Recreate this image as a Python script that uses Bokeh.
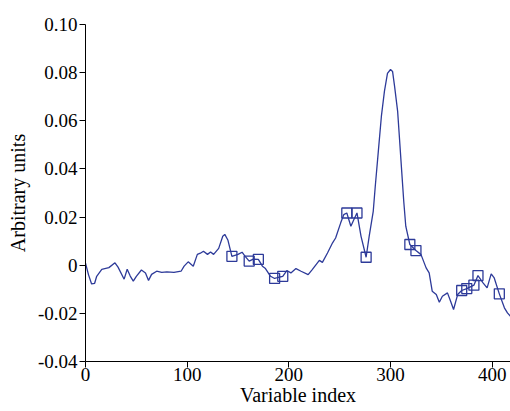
from bokeh.plotting import figure
from bokeh.models import FixedTicker, Range1d
from bokeh.embed import file_html
from bokeh.resources import INLINE

# Curve data (variable index, arbitrary units)
var_index = [0, 3, 6, 9, 11, 16, 23, 29, 32, 38, 41, 44, 47, 50, 55, 59, 62, 65, 70, 75,
             80, 87, 94, 97, 101, 106, 110, 113, 116, 120, 123, 126, 131, 135, 137, 140,
             144, 150, 154, 157, 161, 165, 170, 174, 177, 182, 186, 190, 194, 198, 202,
             207, 212, 219, 223, 230, 233, 238, 243, 246, 251, 254, 257, 261, 264, 267,
             271, 276, 279, 283, 285, 288, 291, 294, 297, 300, 302, 304, 307, 309, 311,
             313, 315, 319, 325, 330, 335, 338, 341, 345, 348, 351, 356, 359, 362, 366,
             370, 375, 382, 386, 391, 395, 399, 402, 407, 412, 415, 418]
signal = [0.0008, -0.004, -0.0078, -0.0075, -0.0046, -0.0017, -0.001, 0.001, -0.0008, -0.0058,
          -0.0017, -0.0045, -0.0066, -0.0046, -0.002, -0.0032, -0.0063, -0.0038, -0.0025, -0.003,
          -0.0028, -0.003, -0.0025, -0.0004, 0.0014, -0.0004, 0.0045, 0.005, 0.0058, 0.0045,
          0.0055, 0.0045, 0.007, 0.012, 0.0128, 0.0105, 0.0037, 0.0045, 0.0054, 0.0037,
          0.0017, 0.0025, 0.0024, -0.0004, -0.0014, -0.0046, -0.0055, -0.005, -0.0046, -0.0022,
          -0.0032, -0.0014, -0.0025, -0.0039, -0.0018, 0.002, 0.0012, 0.0051, 0.0093, 0.0113,
          0.0176, 0.021, 0.0217, 0.0162, 0.019, 0.0217, 0.012, 0.0033, 0.012, 0.0224,
          0.0328, 0.0473, 0.0618, 0.0722, 0.0797, 0.0813, 0.0805, 0.0743, 0.0639, 0.0515,
          0.039, 0.0266, 0.0162, 0.0086, 0.0061, 0.0044, -0.0011, -0.0032, -0.0108, -0.0122,
          -0.0154, -0.0129, -0.0115, -0.0149, -0.0184, -0.0122, -0.0105, -0.0097, -0.0083, -0.0043,
          -0.0073, -0.0094, -0.0036, -0.0053, -0.0119, -0.0177, -0.0198, -0.0212]

# Selected variables (square markers)
sel_index = [144, 161, 170, 186, 194, 257, 267, 276, 319, 325, 370, 375, 382, 386, 407]
sel_signal = [0.0037, 0.0017, 0.0024, -0.0055, -0.0046, 0.0217, 0.0217, 0.0033, 0.0086, 0.0061,
              -0.0105, -0.0097, -0.0083, -0.0043, -0.0119]

x_ticks = [0, 100, 200, 300, 400]
y_ticks = [-0.04, -0.02, 0, 0.02, 0.04, 0.06, 0.08, 0.10]
y_tick_labels = {-0.04: "-0.04", -0.02: "-0.02", 0: "0", 0.02: "0.02", 0.04: "0.04",
                 0.06: "0.06", 0.08: "0.08", 0.10: "0.10"}

COLOR = "#2d3a99"
FONT = "Liberation Serif"

p = figure(width=510, height=410, output_backend="svg", toolbar_location=None,
           x_range=Range1d(0, 418), y_range=Range1d(-0.04, 0.10),
           min_border_left=85, min_border_right=0, min_border_top=24, min_border_bottom=49)
p.outline_line_color = None
p.xgrid.visible = False
p.ygrid.visible = False

p.line(var_index, signal, line_color=COLOR, line_width=1.3)
p.scatter(sel_index, sel_signal, marker="square", size=10, fill_color=None,
          line_color=COLOR, line_width=1.3)

p.xaxis.ticker = FixedTicker(ticks=x_ticks)
p.yaxis.ticker = FixedTicker(ticks=y_ticks)
p.yaxis.major_label_overrides = y_tick_labels
for ax in (p.xaxis, p.yaxis):
    ax.axis_line_color = "black"
    ax.major_tick_line_color = "black"
    ax.minor_tick_line_color = None
    ax.major_tick_in = 0
    ax.major_tick_out = 6
    ax.major_label_text_font = FONT
    ax.major_label_text_font_size = "19px"
    ax.major_label_text_color = "black"
    ax.axis_label_text_font = FONT
    ax.axis_label_text_font_size = "20px"
    ax.axis_label_text_font_style = "normal"
    ax.axis_label_text_color = "black"
p.xaxis.axis_label = "Variable index"
p.yaxis.axis_label = "Arbitrary units"
p.xaxis.major_label_standoff = 0
p.xaxis.axis_label_standoff = 0
p.yaxis.major_label_standoff = 2
p.yaxis.axis_label_standoff = 6

open("out.html", "w").write(file_html(p, INLINE))
